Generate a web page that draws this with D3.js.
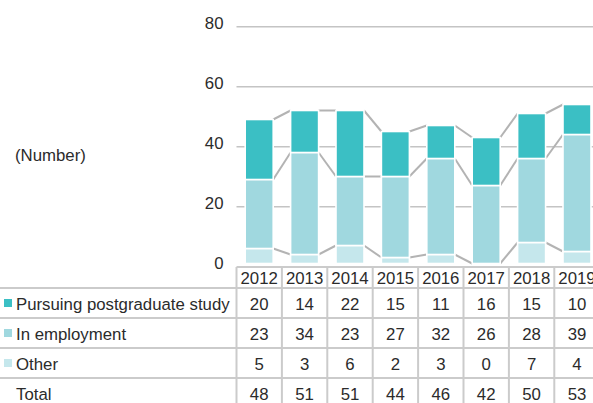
<!DOCTYPE html>
<html>
<head>
<meta charset="utf-8">
<script src="https://cdn.jsdelivr.net/npm/d3@7"></script>
<style>
  body { margin: 0; background: #fff; }
  svg { display: block; font-family: "Liberation Sans", Arial, sans-serif; }
</style>
</head>
<body>
<div id="chart"></div>
<script>
const years = ["2012", "2013", "2014", "2015", "2016", "2017", "2018", "2019"];
const postgrad = [20, 14, 22, 15, 11, 16, 15, 10];
const employment = [23, 34, 23, 27, 32, 26, 28, 39];
const other = [5, 3, 6, 2, 3, 0, 7, 4];
const totals = [48, 51, 51, 44, 46, 42, 50, 53];
const yTicks = [0, 20, 40, 60, 80];

const seriesNames = ["Pursuing postgraduate study", "In employment", "Other"];
const colors = { other: "#c5e7ec", employment: "#a0d8df", postgrad: "#3bbfc4" };

const width = 593, height = 403;
const fontSize = "16.8px";
const textColor = "#2b2b2b";
const svg = d3.select("#chart")
  .append("svg")
  .attr("width", width)
  .attr("height", height);

const colLeft = 236.5, colStep = 45.4;
const x = d3.scaleBand()
  .domain(years)
  .range([colLeft, colLeft + colStep * years.length])
  .padding(0);
const barW = 28;

const y = d3.scaleLinear().domain([0, 80]).range([263.5, 23.5]);
const gridShift = 3.2;

// gridlines
svg.append("g")
  .selectAll("line")
  .data(yTicks.filter(d => d > 0))
  .enter()
  .append("line")
  .attr("x1", colLeft)
  .attr("x2", width)
  .attr("y1", d => y(d) + gridShift)
  .attr("y2", d => y(d) + gridShift)
  .attr("stroke", "#c4c4c4")
  .attr("stroke-width", 1.5);

// y axis labels
const yAxis = svg.append("g")
  .attr("transform", `translate(${colLeft},0)`)
  .call(d3.axisLeft(y).tickValues(yTicks).tickSize(0).tickPadding(13));
yAxis.select(".domain").remove();
yAxis.selectAll("text")
  .attr("font-size", fontSize)
  .attr("font-family", "Liberation Sans, Arial, sans-serif")
  .attr("fill", textColor)
  .attr("dy", "0.3em");

svg.append("text")
  .attr("x", 15)
  .attr("y", 161)
  .attr("font-size", fontSize)
  .attr("fill", textColor)
  .text("(Number)");

// stacked data
const rows = years.map((yr, i) => ({
  year: yr,
  other: other[i],
  employment: employment[i],
  postgrad: postgrad[i]
}));
const stack = d3.stack().keys(["other", "employment", "postgrad"]);
const layers = stack(rows);

// connector lines between bar tops of each segment
const lineG = svg.append("g");
layers.forEach(layer => {
  for (let i = 0; i < layer.length - 1; i++) {
    const a = layer[i], b = layer[i + 1];
    const xa = x(a.data.year) + x.bandwidth() / 2 + barW / 2;
    const xb = x(b.data.year) + x.bandwidth() / 2 - barW / 2;
    lineG.append("line")
      .attr("x1", xa)
      .attr("y1", y(a[1]))
      .attr("x2", xb)
      .attr("y2", y(b[1]))
      .attr("stroke", "#b3b3b3")
      .attr("stroke-width", 2);
  }
});

// bars
svg.append("g")
  .selectAll("g")
  .data(layers)
  .enter()
  .append("g")
  .attr("fill", d => colors[d.key])
  .selectAll("rect")
  .data(d => d.filter(p => p[1] > p[0]))
  .enter()
  .append("rect")
  .attr("x", d => x(d.data.year) + x.bandwidth() / 2 - barW / 2)
  .attr("y", d => y(d[1]))
  .attr("width", barW)
  .attr("height", d => y(d[0]) - y(d[1]))
  .attr("stroke", "#fff")
  .attr("stroke-width", 1.6);

// table
const rowTop = 288, rowH = 30, headTop = 267;
const table = svg.append("g");
const lineColor = "#cbcbcb";

const tableRows = [
  { label: seriesNames[0], values: postgrad, color: colors.postgrad },
  { label: seriesNames[1], values: employment, color: colors.employment },
  { label: seriesNames[2], values: other, color: colors.other },
  { label: "Total", values: totals, color: null }
];

// header top line
table.append("line")
  .attr("x1", colLeft).attr("x2", width)
  .attr("y1", headTop).attr("y2", headTop)
  .attr("stroke", lineColor).attr("stroke-width", 2);

// row lines
table.selectAll("line.row")
  .data(d3.range(tableRows.length + 1))
  .enter()
  .append("line")
  .attr("class", "row")
  .attr("x1", 0).attr("x2", width)
  .attr("y1", i => rowTop + i * rowH)
  .attr("y2", i => rowTop + i * rowH)
  .attr("stroke", lineColor).attr("stroke-width", 2);

// column lines
table.selectAll("line.col")
  .data(d3.range(years.length + 1))
  .enter()
  .append("line")
  .attr("class", "col")
  .attr("x1", i => colLeft + i * colStep)
  .attr("x2", i => colLeft + i * colStep)
  .attr("y1", headTop)
  .attr("y2", height + 10)
  .attr("stroke", lineColor).attr("stroke-width", 2);

// header years
table.selectAll("text.year")
  .data(years)
  .enter()
  .append("text")
  .attr("class", "year")
  .attr("x", d => x(d) + x.bandwidth() / 2)
  .attr("y", headTop + 16.5)
  .attr("text-anchor", "middle")
  .attr("font-size", fontSize)
  .attr("fill", textColor)
  .text(d => d);

tableRows.forEach((r, ri) => {
  const cy = rowTop + ri * rowH + 16;
  if (r.color) {
    table.append("rect")
      .attr("x", 4)
      .attr("y", cy - 5)
      .attr("width", 8)
      .attr("height", 8)
      .attr("fill", r.color);
  }
  table.append("text")
    .attr("x", 16)
    .attr("y", cy + 6)
    .attr("font-size", fontSize)
    .attr("fill", textColor)
    .text(r.label);
  table.selectAll(null)
    .data(r.values)
    .enter()
    .append("text")
    .attr("x", (d, i) => x(years[i]) + x.bandwidth() / 2)
    .attr("y", cy + 6)
    .attr("text-anchor", "middle")
    .attr("font-size", fontSize)
    .attr("fill", textColor)
    .text(d => d);
});
</script>
</body>
</html>
